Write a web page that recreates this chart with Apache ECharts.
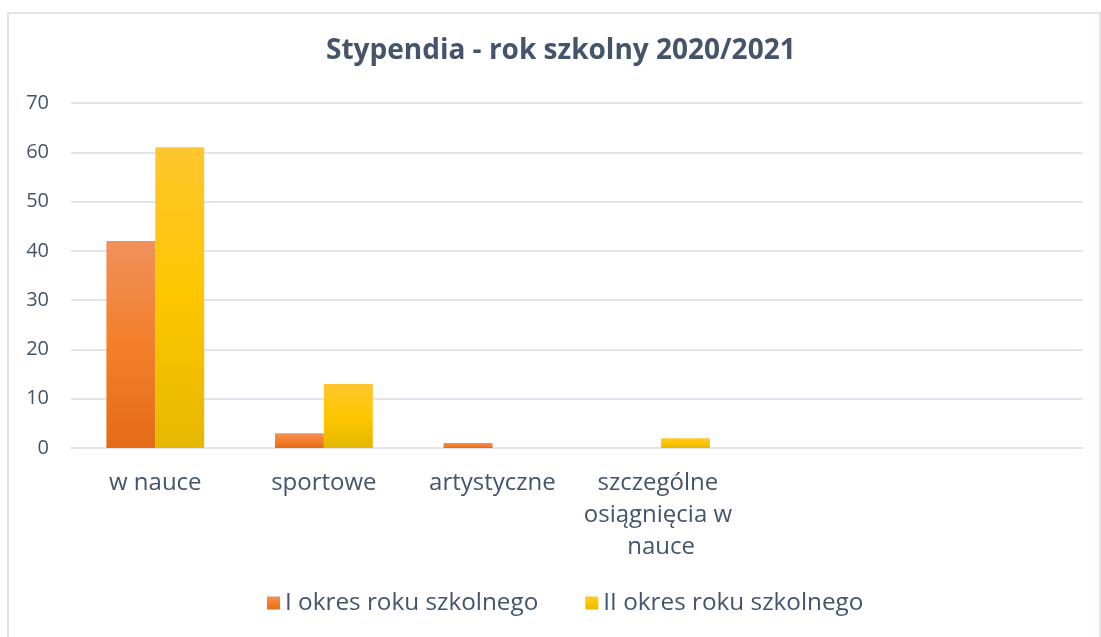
<!DOCTYPE html>
<html>
<head>
<meta charset="utf-8">
<script src="https://cdn.jsdelivr.net/npm/echarts@6/dist/echarts.min.js"></script>
<style>
html,body{margin:0;padding:0;background:#fff;}
#chart{width:1101px;height:637px;}
</style>
</head>
<body>
<div id="chart"></div>
<script>
const titleText = 'Stypendia - rok szkolny 2020/2021';
const categories = ['w nauce', 'sportowe', 'artystyczne', 'szczególne osiągnięcia w nauce', '', ''];
const seriesNames = ['I okres roku szkolnego', 'II okres roku szkolnego'];
const seriesI = [42, 3, 1, 0, null, null];
const seriesII = [61, 13, 0, 2, null, null];
const yTicks = {min: 0, max: 70, interval: 10};

const textColor = '#44546A';
const font = 'Open Sans';

const orangeGrad = new echarts.graphic.LinearGradient(0, 0, 0, 1, [
  {offset: 0, color: '#F0915C'},
  {offset: 0.5, color: '#F47F2A'},
  {offset: 1, color: '#E46B17'}
]);
const yellowGrad = new echarts.graphic.LinearGradient(0, 0, 0, 1, [
  {offset: 0, color: '#FFC62E'},
  {offset: 0.5, color: '#FFC600'},
  {offset: 1, color: '#E5B800'}
]);

const chart = echarts.init(document.getElementById('chart'), null, {renderer: 'canvas'});
chart.setOption({
  backgroundColor: '#fff',
  animation: false,
  textStyle: {fontFamily: font},
  graphic: [{
    type: 'rect',
    shape: {x: 8, y: 13, width: 1092, height: 640},
    style: {fill: 'none', stroke: '#E1E5EB', lineWidth: 2},
    silent: true,
    z: -1
  }],
  title: {
    text: titleText,
    left: 326,
    top: 37,
    padding: 0,
    textStyle: {fontFamily: font, fontSize: 28, fontWeight: 'bold', color: textColor}
  },
  legend: {
    bottom: 17,
    left: 262,
    itemWidth: 13,
    itemHeight: 13,
    itemGap: 47,
    icon: 'path://M0 0H10V10H0Z',
    textStyle: {fontFamily: font, fontSize: 24.3, color: textColor, padding: [0, 0, 0, 0]},
    data: seriesNames
  },
  grid: {left: 71, right: 16, top: 103, bottom: 189, containLabel: false},
  xAxis: {
    type: 'category',
    data: categories,
    axisLine: {show: true, lineStyle: {color: '#E1E5EB', width: 2}},
    axisTick: {show: false},
    axisLabel: {
      interval: 0,
      margin: 19,
      fontFamily: font,
      fontSize: 24,
      color: textColor,
      width: 200,
      overflow: 'break',
      lineHeight: 32
    }
  },
  yAxis: {
    type: 'value',
    min: yTicks.min,
    max: yTicks.max,
    interval: yTicks.interval,
    axisLine: {show: false},
    axisTick: {show: false},
    splitLine: {lineStyle: {color: '#E1E5EB', width: 2}},
    axisLabel: {fontFamily: font, fontSize: 20, color: textColor, margin: 22}
  },
  series: [
    {
      name: seriesNames[0],
      type: 'bar',
      data: seriesI,
      barGap: '0%',
      barCategoryGap: '42%',
      itemStyle: {color: orangeGrad}
    },
    {
      name: seriesNames[1],
      type: 'bar',
      data: seriesII,
      barGap: '0%',
      barCategoryGap: '42%',
      itemStyle: {color: yellowGrad}
    }
  ]
});
</script>
</body>
</html>
